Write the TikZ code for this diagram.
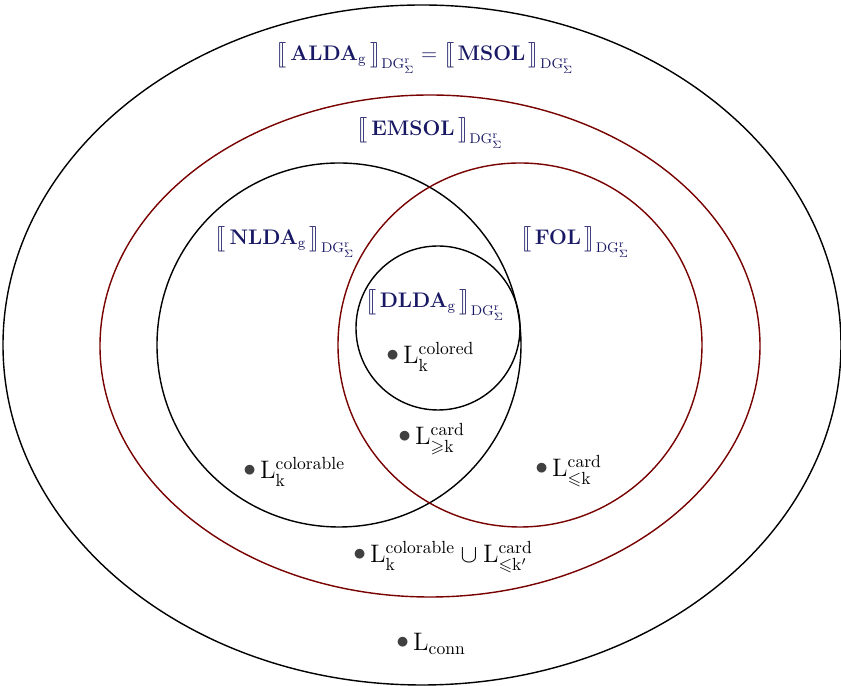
\documentclass[tikz,border=0pt]{standalone}
\usepackage{amsmath}
\usepackage{amssymb}
\usepackage{stmaryrd}
\usepackage{tikz}
\usetikzlibrary{positioning}
\definecolor{logicblue}{RGB}{24, 24, 100}
\definecolor{setred}{RGB}{120, 0, 0}
\definecolor{dotgray}{RGB}{64, 64, 64}
\newcommand{\dotmark}{\textcolor{dotgray}{\raisebox{0.1em}{$\bullet$}}\,}
\newcommand{\sem}[1]{\bigl\llbracket\, #1 \,\bigr\rrbracket_{\mathrm{DG}^{\mathrm{r}}_{\Sigma}}}

\begin{document}
\begin{tikzpicture}[
    setline/.style={line width=0.8pt},
    logic/.style={logicblue, font=\large},
    member/.style={anchor=base west, inner sep=0pt, font=\Large}
  ]
  \useasboundingbox (-8.4,-6.86) rectangle (8.42,6.86);
  % classes of languages
  \draw[setline] (0.04,-0.04) ellipse (8.38 and 6.8);
  \draw[setline, setred] (0.2,-0.06) ellipse (6.6 and 5.02);
  \draw[setline] (-1.62,-0.04) circle (3.64);
  \draw[setline, setred] (2.0,-0.04) circle (3.64);
  \draw[setline] (0.36,0.3) circle (1.64);

  \node[logic] (alda) at (0.1,5.7) {$\sem{\mathbf{ALDA}_{\mathrm{g}}} = \sem{\mathbf{MSOL}}$};
  \node[logic] (emsol) at (0.2,4.2) {$\sem{\mathbf{EMSOL}}$};
  \node[logic] (nlda) at (-2.7,2.02) {$\sem{\mathbf{NLDA}_{\mathrm{g}}}$};
  \node[logic] (fol) at (3.1,2.02) {$\sem{\mathbf{FOL}}$};
  \node[logic] (dlda) at (0.3,0.76) {$\sem{\mathbf{DLDA}_{\mathrm{g}}}$};

  % example languages
  \node[member] (colored) at (-0.68,-0.42) {\dotmark$\mathrm{L}^{\text{colored}}_{\mathrm{k}}$};
  \node[member] (cardgeq) at (-0.44,-2.04) {\dotmark$\mathrm{L}^{\text{card}}_{\geqslant \mathrm{k}}$};
  \node[member] (colorable) at (-3.54,-2.72) {\dotmark$\mathrm{L}^{\text{colorable}}_{\mathrm{k}}$};
  \node[member] (cardleq) at (2.3,-2.68) {\dotmark$\mathrm{L}^{\text{card}}_{\leqslant \mathrm{k}}$};
  \node[member] (union) at (-1.34,-4.4) {\dotmark$\mathrm{L}^{\text{colorable}}_{\mathrm{k}} \cup \mathrm{L}^{\text{card}}_{\leqslant \mathrm{k}'}$};
  \node[member] (conn) at (-0.48,-6.16) {\dotmark$\mathrm{L}_{\text{conn}}$};
\end{tikzpicture}
\end{document}
